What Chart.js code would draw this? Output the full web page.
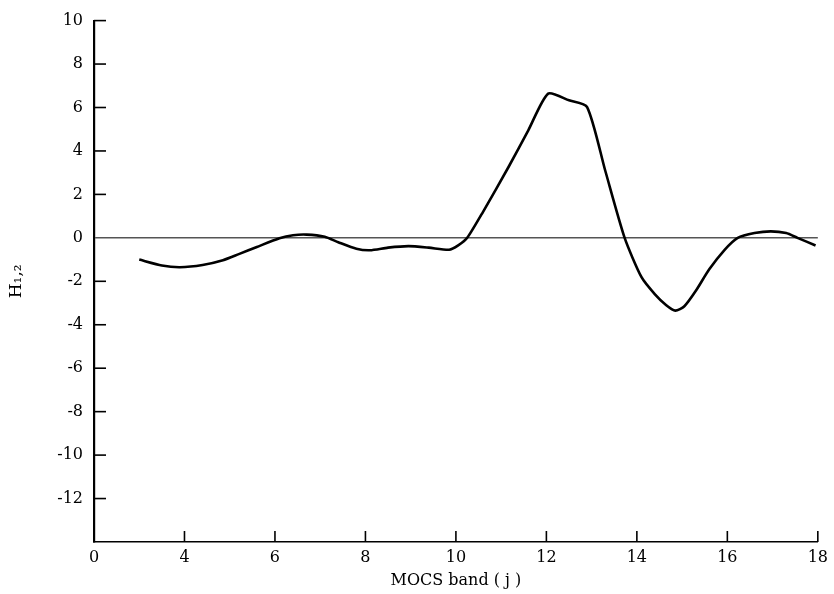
<!DOCTYPE html>
<html>
<head>
<meta charset="utf-8">
<script src="https://cdn.jsdelivr.net/npm/chart.js@4"></script>
<style>
  html, body { margin: 0; padding: 0; background: #fff; }
  #wrap { width: 834px; height: 594px; }
</style>
</head>
<body>
<div id="wrap"><canvas id="grafico"></canvas></div>
<script>
// valores
var bandas = [3.0, 3.5, 3.9, 4.4, 4.85, 5.2, 5.6, 6.1, 6.4, 6.7, 7.1, 7.4, 7.8, 8.1, 8.5, 8.95, 9.4, 9.85, 10.05, 10.25,
              10.6, 11.16, 11.6, 12.04, 12.5, 12.9, 13.3, 13.73, 14.1, 14.4, 14.65, 14.85, 15.05, 15.3, 15.6, 15.94, 16.23, 16.6, 16.96, 17.3, 17.55, 17.95]
var valoresH = [-1.0, -1.27, -1.35, -1.25, -1.03, -0.75, -0.42, -0.02, 0.12, 0.15, 0.05, -0.2, -0.5, -0.57, -0.45, -0.38, -0.45, -0.55, -0.35, 0.0,
                1.2, 3.25, 4.95, 6.64, 6.33, 6.02, 3.1, 0.0, -1.8, -2.6, -3.1, -3.35, -3.15, -2.45, -1.45, -0.55, 0.0, 0.22, 0.3, 0.22, 0.0, -0.35]

// marcas dos eixos (o eixo x começa em 2, rotulado como 0)
var ticksX = [2, 4, 6, 8, 10, 12, 14, 16, 18]
var rotulosX = ['0', '4', '6', '8', '10', '12', '14', '16', '18']
var ticksY = [10, 8, 6, 4, 2, 0, -2, -4, -6, -8, -10, -12, -14]
var rotulosY = ['10', '8', '6', '4', '2', '0', '-2', '-4', '-6', '-8', '-10', '-12', '']

var fonte = { family: 'DejaVu Serif', size: 16 }

//desenha as marcas curtas para dentro dos eixos
var marcasInternas = {
    id: 'marcasInternas',
    afterDraw: function(chart){
        var ctx = chart.ctx
        var sx = chart.scales.x, sy = chart.scales.y
        var x0 = sx.left, y0 = sy.bottom
        ctx.save()
        ctx.strokeStyle = '#000'
        ctx.lineWidth = 1.6
        ticksY.forEach(function(v){
            if(v === -14 || v === 0) return
            var p = sy.getPixelForValue(v)
            ctx.beginPath(); ctx.moveTo(x0, p); ctx.lineTo(x0 + 12, p); ctx.stroke()
        })
        ticksX.forEach(function(v){
            if(v === 2) return
            var p = sx.getPixelForValue(v)
            ctx.beginPath(); ctx.moveTo(p, y0); ctx.lineTo(p, y0 - 11); ctx.stroke()
        })
        ctx.restore()
    }
}

var pontos = bandas.map(function(b, i){ return { x: b, y: valoresH[i] } })

new Chart(document.getElementById('grafico').getContext('2d'), {
    type: 'line',
    data: {
        datasets: [{
            data: pontos,
            borderColor: '#000',
            borderWidth: 2.6,
            pointRadius: 0,
            tension: 0.22,
            fill: false
        }]
    },
    options: {
        responsive: true,
        maintainAspectRatio: false,
        animation: false,
        layout: { padding: { left: 4, right: 14, top: 20, bottom: 4 } },
        plugins: { legend: { display: false }, tooltip: { enabled: false } },
        scales: {
            x: {
                type: 'linear',
                min: 2, max: 18,
                afterBuildTicks: function(scale){ scale.ticks = ticksX.map(function(v){ return { value: v } }) },
                afterFit: function(scale){ scale.height = 48 },
                ticks: {
                    color: '#000', font: fonte, padding: 6, maxRotation: 0,
                    callback: function(v){ return rotulosX[ticksX.indexOf(v)] }
                },
                grid: { display: false, drawTicks: false },
                border: { display: true, color: '#000', width: 1.6 },
                title: { display: true, text: 'MOCS band ( j )', color: '#000', font: fonte, padding: { top: 2, bottom: 0 } }
            },
            y: {
                type: 'linear',
                min: -14, max: 10,
                afterBuildTicks: function(scale){ scale.ticks = ticksY.map(function(v){ return { value: v } }) },
                afterFit: function(scale){ scale.width = 90 },
                ticks: {
                    color: '#000', font: fonte, padding: 11,
                    callback: function(v){ return rotulosY[ticksY.indexOf(v)] }
                },
                grid: {
                    drawTicks: false,
                    lineWidth: 1.6,
                    color: function(c){ return (c.tick && c.tick.value === 0) ? '#555' : 'rgba(0,0,0,0)' }
                },
                border: { display: true, color: '#000', width: 2.2 },
                title: { display: true, text: 'H\u2081,\u2082', color: '#000', font: { family: 'DejaVu Serif', size: 17 }, padding: { top: 2, bottom: 0 } }
            }
        }
    },
    plugins: [marcasInternas]
})
</script>
</body>
</html>
